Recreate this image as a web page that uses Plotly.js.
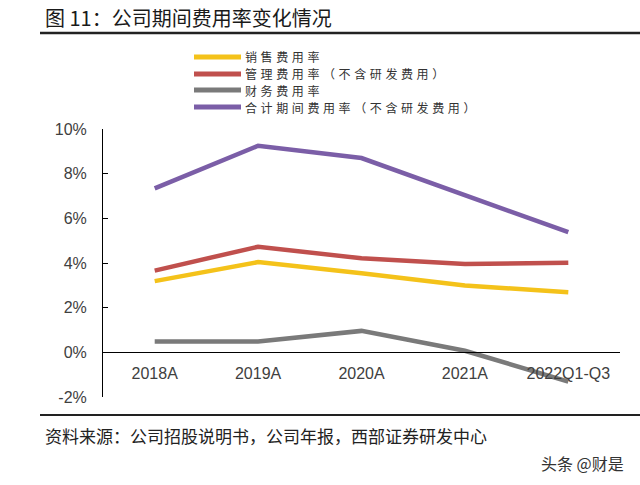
<!DOCTYPE html>
<html>
<head>
<meta charset="utf-8">
<script src="https://cdn.plot.ly/plotly-3.0.1.min.js"></script>
<style>html,body{margin:0;padding:0;background:#fff;}#chart{width:640px;height:485px;}</style>
</head>
<body>
<div id="chart"></div>
<script>
const categories = ['2018A', '2019A', '2020A', '2021A', '2022Q1-Q3'];
const seriesNames = ['销售费用率', '管理费用率（不含研发费用）', '财务费用率', '合计期间费用率（不含研发费用）'];
const salesRate = [3.19, 4.04, 3.54, 2.99, 2.69];
const adminRate = [3.66, 4.73, 4.21, 3.96, 4.01];
const financeRate = [0.48, 0.48, 0.96, 0.07, -1.31];
const totalRate = [7.34, 9.25, 8.70, 7.02, 5.38];
const yTickVals = [-2, 0, 2, 4, 6, 8, 10];
const titleText = '图 11：公司期间费用率变化情况';
const sourceText = '资料来源：公司招股说明书，公司年报，西部证券研发中心';
const watermarkText = '头条 @财是';

const colors = ['#F4C21A', '#C0504D', '#7A7A7A', '#7B5EA7'];
const seriesValues = [salesRate, adminRate, financeRate, totalRate];

const W = 640, H = 485;
const M = {l: 103, r: 20, t: 129, b: 88};
const PW = W - M.l - M.r, PH = H - M.t - M.b;
const px = x => (x - M.l) / PW;
const py = y => (H - M.b - y) / PH;

const cjk = '"Noto Sans CJK SC", "Noto Sans", sans-serif';

const traces = seriesValues.map((vals, i) => ({
  type: 'scatter', mode: 'lines', x: categories, y: vals, name: seriesNames[i],
  line: {color: colors[i], width: 4.5}, showlegend: false, hoverinfo: 'skip'
}));

const shapes = [
  {type: 'line', xref: 'paper', yref: 'paper', x0: px(40), x1: px(640), y0: py(33), y1: py(33), line: {color: '#222', width: 2.5}},
  {type: 'line', xref: 'paper', yref: 'paper', x0: px(40), x1: px(640), y0: py(415), y1: py(415), line: {color: '#222', width: 2}}
];
const annotations = [
  {xref: 'paper', yref: 'paper', x: px(43), y: py(18), xanchor: 'left', yanchor: 'middle', text: titleText, showarrow: false, font: {family: cjk, size: 20, color: '#1a1a1a'}},
  {xref: 'paper', yref: 'paper', x: px(43), y: py(435), xanchor: 'left', yanchor: 'middle', text: sourceText, showarrow: false, font: {family: cjk, size: 17, color: '#222'}},
  {xref: 'paper', yref: 'paper', x: px(626), y: py(463), xanchor: 'right', yanchor: 'middle', text: watermarkText, showarrow: false, font: {family: cjk, size: 16, color: '#333'}}
];
const legendRows = [57, 74, 90, 107];
seriesNames.forEach((n, i) => {
  shapes.push({type: 'line', xref: 'paper', yref: 'paper', x0: px(194), x1: px(241), y0: py(legendRows[i]), y1: py(legendRows[i]), line: {color: colors[i], width: 5}});
  annotations.push({
    xref: 'paper', yref: 'paper', x: px(244), y: py(legendRows[i]),
    xanchor: 'left', yanchor: 'middle', align: 'left', borderpad: 0, showarrow: false,
    text: '<span style="letter-spacing:3.6px">' + n + '</span>',
    font: {family: cjk, size: 12, color: '#333'}
  });
});

const layout = {
  width: W, height: H,
  margin: M,
  paper_bgcolor: '#fff', plot_bgcolor: '#fff',
  showlegend: false,
  font: {family: '"Liberation Sans", Arial, sans-serif', size: 16, color: '#404040'},
  xaxis: {
    type: 'category', range: [-0.5, 4.5], anchor: 'free', position: (0 - (-2)) / 12,
    showline: true, linecolor: '#000', linewidth: 1, ticks: '', showgrid: false, zeroline: false,
    tickfont: {size: 16, color: '#404040'}, ticklabelstandoff: 6, fixedrange: true
  },
  yaxis: {
    range: [-2, 10], tickvals: yTickVals, ticktext: yTickVals.map(v => v + '%'),
    showline: true, linecolor: '#000', linewidth: 1, ticks: 'inside', ticklen: 5, tickcolor: '#000', tickwidth: 1,
    showgrid: false, zeroline: false, tickfont: {size: 16, color: '#404040'}, ticklabelstandoff: 12, fixedrange: true
  },
  shapes: shapes,
  annotations: annotations
};

Plotly.newPlot('chart', traces, layout, {displayModeBar: false, staticPlot: true});
</script>
</body>
</html>
